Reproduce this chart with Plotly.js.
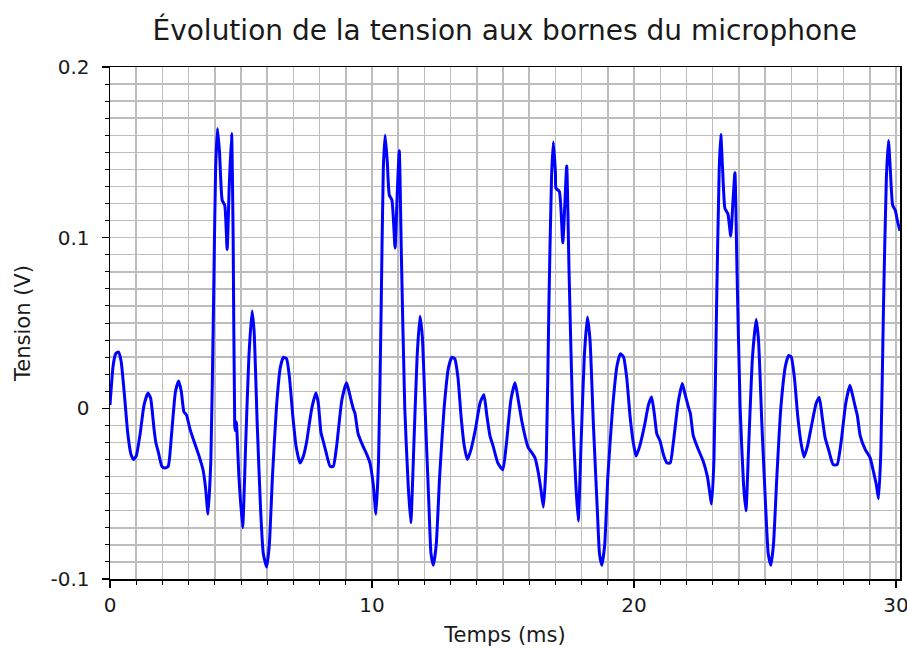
<!DOCTYPE html>
<html>
<head>
<meta charset="utf-8">
<script src="https://cdn.plot.ly/plotly-3.0.1.min.js"></script>
<style>html,body{margin:0;padding:0;background:#fff;}#chart{width:907px;height:651px;}</style>
</head>
<body>
<div id="chart"></div>
<script>
// Temps (ms)
const temps = [
0.00,0.12,0.22,0.32,0.42,0.55,0.68,0.80,0.90,1.00,1.15,1.30,1.45,1.55,1.68,1.75,1.85,1.98,2.10,2.22,
2.35,2.50,2.62,2.72,2.82,2.92,3.05,3.20,3.40,3.55,3.65,3.74,3.85,3.95,4.03,4.10,4.18,4.28,4.38,4.47,
4.55,4.64,4.70,4.76,4.78,4.82,4.92,5.06,5.18,5.30,5.42,5.50,5.62,5.75,5.85,5.98,6.08,6.20,6.35,6.50,
6.62,6.74,6.85,6.98,7.10,7.25,7.38,7.50,7.70,7.86,7.95,8.05,8.15,8.25,8.40,8.52,8.65,8.85,9.03,9.15,
9.28,9.35,9.47,9.65,9.80,9.92,10.05,10.15,10.25,10.35,10.43,10.50,10.58,10.66,10.76,10.88,10.96,11.04,11.12,11.25,
11.38,11.48,11.60,11.72,11.83,11.92,12.05,12.18,12.25,12.34,12.45,12.58,12.75,12.92,13.05,13.16,13.28,13.40,13.52,13.64,
13.78,13.95,14.12,14.27,14.38,14.50,14.62,14.80,14.99,15.12,15.30,15.46,15.58,15.71,15.85,15.96,16.10,16.22,16.35,16.45,
16.54,16.65,16.75,16.85,16.92,17.00,17.02,17.15,17.28,17.36,17.43,17.52,17.65,17.78,17.87,17.98,18.10,18.22,18.32,18.45,
18.60,18.68,18.77,18.88,19.00,19.18,19.35,19.48,19.60,19.72,19.85,19.97,20.08,20.22,20.40,20.55,20.67,20.78,20.87,20.99,
21.12,21.26,21.38,21.50,21.68,21.84,21.95,22.07,22.15,22.26,22.45,22.64,22.80,22.96,23.05,23.15,23.25,23.31,23.38,23.47,
23.58,23.69,23.77,23.85,23.93,24.05,24.18,24.27,24.38,24.52,24.66,24.75,24.88,25.03,25.12,25.22,25.32,25.45,25.60,25.78,
25.90,26.00,26.12,26.25,26.37,26.49,26.62,26.80,26.95,27.07,27.18,27.29,27.42,27.60,27.75,27.90,28.08,28.24,28.35,28.44,
28.52,28.63,28.82,29.01,29.15,29.25,29.33,29.42,29.52,29.63,29.71,29.78,29.87,29.97,30.05,30.15
];
// Tension (V)
const tension = [
0.002,0.025,0.032,0.033,0.028,0.008,-0.015,-0.027,-0.030,-0.028,-0.015,0.002,0.009,0.006,-0.012,-0.020,-0.026,-0.034,-0.035,-0.034,
-0.015,0.010,0.016,0.010,-0.002,-0.004,-0.012,-0.019,-0.028,-0.036,-0.047,-0.062,-0.030,0.060,0.140,0.164,0.150,0.122,0.119,0.093,
0.130,0.161,0.100,-0.010,-0.013,-0.008,-0.040,-0.070,-0.020,0.030,0.057,0.045,-0.010,-0.060,-0.085,-0.093,-0.080,-0.040,0.000,0.024,
0.030,0.029,0.018,-0.005,-0.022,-0.032,-0.028,-0.020,0.000,0.009,0.003,-0.014,-0.020,-0.026,-0.034,-0.034,-0.022,0.005,0.015,0.008,
0.000,-0.003,-0.015,-0.022,-0.027,-0.032,-0.045,-0.062,-0.030,0.060,0.140,0.160,0.145,0.125,0.122,0.094,0.125,0.151,0.090,0.000,
-0.045,-0.067,-0.020,0.030,0.054,0.042,-0.010,-0.060,-0.085,-0.092,-0.080,-0.040,0.000,0.024,0.030,0.029,0.018,-0.005,-0.022,-0.030,
-0.024,-0.012,0.003,0.008,-0.004,-0.016,-0.022,-0.032,-0.036,-0.022,0.005,0.015,0.005,-0.007,-0.017,-0.023,-0.026,-0.029,-0.038,-0.048,
-0.058,-0.030,0.060,0.135,0.156,0.138,0.129,0.127,0.097,0.120,0.142,0.080,0.000,-0.045,-0.066,-0.020,0.030,0.0535,0.040,-0.010,
-0.060,-0.085,-0.092,-0.080,-0.040,0.000,0.025,0.032,0.030,0.018,-0.005,-0.020,-0.028,-0.022,-0.010,0.002,0.0066,-0.004,-0.015,-0.019,
-0.027,-0.032,-0.032,-0.020,0.003,0.0145,0.008,0.001,-0.003,-0.016,-0.024,-0.031,-0.040,-0.056,-0.030,0.060,0.140,0.1605,0.140,0.117,
0.114,0.101,0.120,0.138,0.080,0.000,-0.045,-0.060,-0.020,0.030,0.052,0.040,-0.010,-0.060,-0.085,-0.092,-0.080,-0.040,0.000,0.025,
0.031,0.030,0.018,-0.005,-0.020,-0.0285,-0.022,-0.008,0.003,0.0064,-0.005,-0.017,-0.024,-0.033,-0.033,-0.020,0.003,0.0135,0.007,0.001,
-0.004,-0.016,-0.024,-0.029,-0.038,-0.045,-0.053,-0.025,0.060,0.135,0.157,0.140,0.119,0.116,0.110,0.104
];
const xTicks = [0, 10, 20, 30];
const xTickText = ["0", "10", "20", "30"];
const yTicks = [-0.1, 0, 0.1, 0.2];
const yTickText = ["-0.1", "0", "0.1", "0.2"];

const font = "DejaVu Sans, sans-serif";
const gridColor = "#bdbdbd";

const data = [{
  x: temps, y: tension, type: "scatter", mode: "lines",
  line: {color: "#0000ff", width: 3, shape: "spline", smoothing: 0.5}, hoverinfo: "skip"
}];

const layout = {
  width: 907, height: 651,
  margin: {l: 110, r: 7, t: 67, b: 72},
  paper_bgcolor: "#fff", plot_bgcolor: "#fff",
  showlegend: false,
  title: {text: "Évolution de la tension aux bornes du microphone",
          font: {family: font, size: 28, color: "#1a1a1a"},
          x: 0.5565, xanchor: "center", y: 0.954, yref: "container", yanchor: "middle"},
  xaxis: {
    range: [0, 30.15], tickmode: "array", tickvals: xTicks, ticktext: xTickText,
    ticks: "outside", ticklen: 7, tickwidth: 1.5, tickcolor: "#000",
    showline: true, linecolor: "#000", linewidth: 1.5, mirror: true,
    showgrid: false, zeroline: false,
    ticklabeloverflow: "allow",
    tickfont: {family: font, size: 20, color: "#1a1a1a"},
    minor: {dtick: 1, tick0: 0, showgrid: true, gridcolor: gridColor, gridwidth: 1.5,
            ticks: "outside", ticklen: 4, tickwidth: 1, tickcolor: "#000"},
    title: {text: "Temps (ms)", font: {family: font, size: 21, color: "#1a1a1a"}, standoff: 12}
  },
  yaxis: {
    range: [-0.1, 0.2], tickmode: "array", tickvals: yTicks, ticktext: yTickText,
    ticks: "outside", ticklen: 7, tickwidth: 1.5, tickcolor: "#000",
    showline: true, linecolor: "#000", linewidth: 1.5, mirror: true,
    showgrid: false, zeroline: false,
    ticklabelstandoff: 8, ticklabeloverflow: "allow",
    tickfont: {family: font, size: 20, color: "#1a1a1a"},
    minor: {dtick: 0.01, tick0: 0, showgrid: true, gridcolor: gridColor, gridwidth: 1.5,
            ticks: "outside", ticklen: 4, tickwidth: 1, tickcolor: "#000"},
    title: {text: "Tension (V)", font: {family: font, size: 21, color: "#1a1a1a"}, standoff: 14}
  }
};

Plotly.newPlot("chart", data, layout, {staticPlot: true, displayModeBar: false});
</script>
</body>
</html>
